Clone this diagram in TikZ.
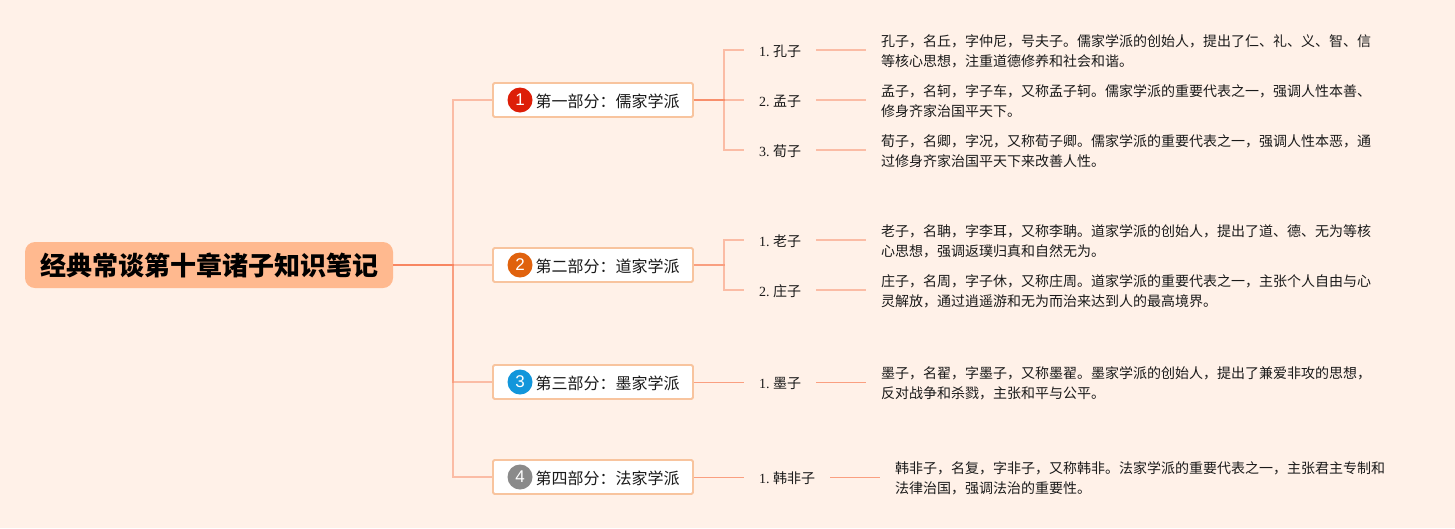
\documentclass[tikz,border=0pt]{standalone}
\usepackage{fontspec}
\setmainfont{Liberation Serif}
\newfontfamily\cjk{Noto Sans CJK SC}
\newfontfamily\digitfont{Liberation Sans}
\definecolor{pagebg}{HTML}{FFF1E8}
\definecolor{rootfill}{HTML}{FFB98F}
\definecolor{boxline}{HTML}{F8C49E}
\definecolor{linkcol}{HTML}{F87D55}
\definecolor{inktext}{HTML}{1A1A1A}
\definecolor{badgea}{HTML}{DD1E08}
\definecolor{badgeb}{HTML}{E0620D}
\definecolor{badgec}{HTML}{1296DB}
\definecolor{badged}{HTML}{8A8A8A}
\newcommand{\notestrut}{\rule{0pt}{14.8pt}}
\newcommand{\fc}{\char"FF0C\relax}
\newcommand{\fk}{\char"FF1A\relax}
\tikzset{
  x=1pt,y=-1pt,
  rootnode/.style={fill=rootfill,rounded corners=10pt,minimum width=368pt,minimum height=46pt,inner sep=0pt,text=black,font=\fontsize{26}{30}\selectfont\cjk\bfseries},
  partbox/.style={draw=boxline,line width=1.8pt,fill=white,rounded corners=1.5pt,minimum width=200pt,minimum height=34pt,inner sep=0pt,text height=14pt,text depth=0pt,text=inktext,font=\fontsize{16}{20}\selectfont\cjk},
  badge/.style={circle,minimum size=25pt,inner sep=0pt,text=white,font=\fontsize{17}{20}\selectfont\digitfont},
  leaflabel/.style={anchor=west,inner xsep=15pt,inner ysep=0pt,text height=12pt,text depth=0pt,text=inktext,font=\fontsize{14}{20}\selectfont},
  notetext/.style={anchor=west,inner xsep=15pt,inner ysep=0pt,align=left,text=inktext,font=\fontsize{14}{20}\selectfont\cjk},
  link/.style={draw=linkcol,draw opacity=0.45,line width=1.5pt},
  thinlink/.style={draw=linkcol,draw opacity=0.7,line width=1pt},
}
\begin{document}
\begin{tikzpicture}
\useasboundingbox (0,0) rectangle (1455,528);
\fill[pagebg] (0,0) rectangle (1455,528);

\coordinate (j0) at (453,265);
\coordinate (j1) at (724,100);
\coordinate (j2) at (724,265);

\node[rootnode] (root) at (209,265) {经典常谈第十章诸子知识笔记};

\node[partbox] (b1) at (593,100) {\hspace*{29pt}第一部分\fk 儒家学派};
\node[partbox] (b2) at (593,265) {\hspace*{29pt}第二部分\fk 道家学派};
\node[partbox] (b3) at (593,382) {\hspace*{29pt}第三部分\fk 墨家学派};
\node[partbox] (b4) at (593,477) {\hspace*{29pt}第四部分\fk 法家学派};

\node[badge,fill=badgea] (c1) at (520,100) {1};
\node[badge,fill=badgeb] (c2) at (520,265) {2};
\node[badge,fill=badgec] (c3) at (520,382) {3};
\node[badge,fill=badged] (c4) at (520,477) {4};

\node[leaflabel] (l11) at (744,50) {1.\ {\cjk 孔子}};
\node[leaflabel] (l12) at (744,100) {2.\ {\cjk 孟子}};
\node[leaflabel] (l13) at (744,150) {3.\ {\cjk 荀子}};
\node[leaflabel] (l21) at (744,240) {1.\ {\cjk 老子}};
\node[leaflabel] (l22) at (744,290) {2.\ {\cjk 庄子}};
\node[leaflabel] (l31) at (744,382) {1.\ {\cjk 墨子}};
\node[leaflabel] (l41) at (744,477) {1.\ {\cjk 韩非子}};

\node[notetext] (t11) at (866,50) {\notestrut 孔子\fc 名丘\fc 字仲尼\fc 号夫子。儒家学派的创始人\fc 提出了仁、礼、义、智、信\\等核心思想\fc 注重道德修养和社会和谐。};
\node[notetext] (t12) at (866,100) {\notestrut 孟子\fc 名轲\fc 字子车\fc 又称孟子轲。儒家学派的重要代表之一\fc 强调人性本善、\\修身齐家治国平天下。};
\node[notetext] (t13) at (866,150) {\notestrut 荀子\fc 名卿\fc 字况\fc 又称荀子卿。儒家学派的重要代表之一\fc 强调人性本恶\fc 通\\过修身齐家治国平天下来改善人性。};
\node[notetext] (t21) at (866,240) {\notestrut 老子\fc 名聃\fc 字李耳\fc 又称李聃。道家学派的创始人\fc 提出了道、德、无为等核\\心思想\fc 强调返璞归真和自然无为。};
\node[notetext] (t22) at (866,290) {\notestrut 庄子\fc 名周\fc 字子休\fc 又称庄周。道家学派的重要代表之一\fc 主张个人自由与心\\灵解放\fc 通过逍遥游和无为而治来达到人的最高境界。};
\node[notetext] (t31) at (866,382) {\notestrut 墨子\fc 名翟\fc 字墨子\fc 又称墨翟。墨家学派的创始人\fc 提出了兼爱非攻的思想\fc \\反对战争和杀戮\fc 主张和平与公平。};
\node[notetext] (t41) at (880,477) {\notestrut 韩非子\fc 名复\fc 字非子\fc 又称韩非。法家学派的重要代表之一\fc 主张君主专制和\\法律治国\fc 强调法治的重要性。};

\draw[link] (root.east) -- (j0) |- (b1.west);
\draw[link] (root.east) -- (b2.west);
\draw[link] (root.east) -- (j0) |- (b3.west);
\draw[link] (root.east) -- (j0) |- (b4.west);

\draw[link] (b1.east) -- (j1) |- (l11.west);
\draw[link] (b1.east) -- (l12.west);
\draw[link] (b1.east) -- (j1) |- (l13.west);
\draw[link] (b2.east) -- (j2) |- (l21.west);
\draw[link] (b2.east) -- (j2) |- (l22.west);
\draw[thinlink] (b3.east) -- (l31.west);
\draw[thinlink] (b4.east) -- (l41.west);

\draw[link] (l11.east) -- (t11.west);
\draw[link] (l12.east) -- (t12.west);
\draw[link] (l13.east) -- (t13.west);
\draw[link] (l21.east) -- (t21.west);
\draw[link] (l22.east) -- (t22.west);
\draw[thinlink] (l31.east) -- (t31.west);
\draw[thinlink] (l41.east) -- (t41.west);
\end{tikzpicture}
\end{document}
